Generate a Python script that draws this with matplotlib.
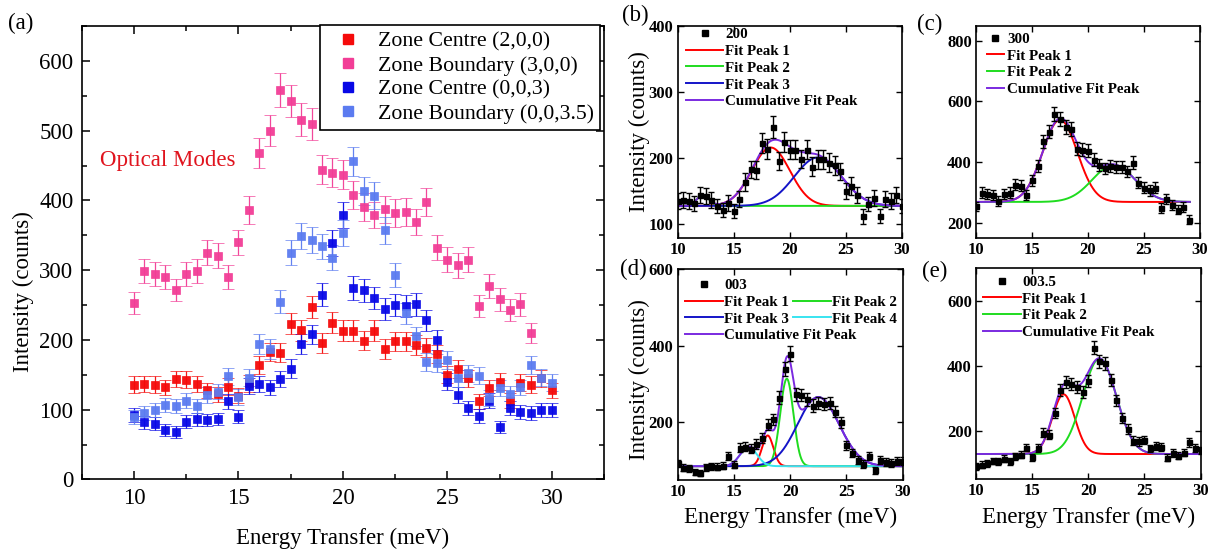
import numpy as np
import matplotlib.pyplot as plt
from matplotlib.lines import Line2D
from matplotlib.ticker import MultipleLocator

plt.rcParams["font.family"] = ["Liberation Serif", "DejaVu Serif"]

# energy transfer grid of the scans (meV)
energy = [10.0, 10.5, 11.0, 11.5, 12.0, 12.5, 13.0, 13.5, 14.0, 14.5,
          15.0, 15.5, 16.0, 16.5, 17.0, 17.5, 18.0, 18.5, 19.0, 19.5,
          20.0, 20.5, 21.0, 21.5, 22.0, 22.5, 23.0, 23.5, 24.0, 24.5,
          25.0, 25.5, 26.0, 26.5, 27.0, 27.5, 28.0, 28.5, 29.0, 29.5, 30.0]

# (2,0,0) zone centre
q200 = [136, 137, 136, 132, 144, 143, 137, 128, 122, 133,
        120, 138, 164, 183, 182, 223, 214, 247, 196, 225,
        213, 213, 199, 213, 187, 198, 198, 193, 189, 180,
        150, 158, 145, 112, 131, 140, 113, 139, 136, 145, 128]
q200_err = [12, 12, 12, 11, 12, 12, 12, 11, 11, 12,
            11, 12, 13, 13, 13, 15, 15, 16, 14, 15,
            15, 15, 14, 15, 14, 14, 14, 14, 14, 13,
            12, 13, 12, 11, 11, 12, 11, 12, 12, 12, 11]

# (3,0,0) zone boundary, measured up to 29 meV
q300 = [253, 299, 295, 290, 272, 295, 299, 325, 321, 290,
        340, 386, 468, 500, 558, 543, 516, 510, 444, 440,
        437, 408, 390, 379, 387, 382, 383, 369, 398, 332,
        315, 307, 315, 249, 277, 258, 243, 251, 210]
q300_err = [16, 17, 17, 17, 16, 17, 17, 18, 18, 17,
            18, 20, 22, 22, 24, 23, 23, 23, 21, 21,
            21, 20, 20, 19, 20, 20, 20, 19, 20, 18,
            18, 18, 18, 16, 17, 16, 16, 16, 15]

# (0,0,3) zone centre
q003 = [93, 82, 80, 71, 68, 83, 86, 85, 87, 112,
        90, 134, 137, 132, 144, 159, 194, 208, 265, 339,
        379, 274, 271, 260, 244, 250, 249, 251, 228, 200,
        140, 121, 102, 91, 113, 75, 102, 97, 95, 99, 99]
q003_err = [10, 9, 9, 8, 8, 9, 9, 9, 9, 11,
            9, 12, 12, 11, 12, 13, 14, 14, 16, 18,
            19, 17, 16, 16, 16, 16, 16, 16, 15, 14,
            12, 11, 10, 10, 11, 9, 10, 10, 10, 10, 10]

# (0,0,3.5) zone boundary
q0035 = [90, 95, 99, 107, 105, 113, 105, 121, 126, 148,
         118, 146, 194, 187, 255, 325, 349, 343, 334, 318,
         353, 456, 414, 407, 357, 293, 238, 205, 169, 167,
         171, 145, 152, 149, 117, 131, 123, 132, 164, 146, 139]
q0035_err = [10, 10, 10, 10, 10, 11, 10, 11, 11, 12,
             11, 12, 14, 14, 16, 18, 19, 19, 18, 18,
             19, 21, 20, 20, 19, 17, 15, 14, 13, 13,
             13, 12, 12, 12, 11, 11, 11, 11, 13, 12, 12]

# gaussian fits: baseline, then centre / height / width of each peak
fit200_base = 128
fit200_centre = [18.3, 12.25, 22.5]
fit200_height = [88, 16, 73]
fit200_width = [1.7, 0.55, 2.1]

fit300_base = 268
fit300_centre = [17.5, 22.3]
fit300_height = [271, 122]
fit300_width = [1.55, 1.9]

fit003_base = 86
fit003_centre = [18.0, 19.7, 22.5, 16.3]
fit003_height = [80, 228, 180, 50]
fit003_width = [0.5, 0.58, 1.85, 0.75]

fit0035_base = 128
fit0035_centre = [17.8, 21.0]
fit0035_height = [184, 294]
fit0035_width = [1.0, 1.5]

RED = "#ff0000"
GREEN = "#1fdc1f"
BLUE = "#1414c8"
CYAN = "#38e4f0"
PURPLE = "#7a2ae0"


def gauss(x, c, h, w):
    return h * np.exp(-(x - c) ** 2 / (2 * w ** 2))


def style_small(ax, ylim, yticks):
    ax.set_xlim(10, 30)
    ax.set_ylim(*ylim)
    ax.set_xticks([10, 15, 20, 25, 30])
    ax.set_yticks(yticks)
    ax.tick_params(direction="in", top=True, right=True, length=4, width=1,
                   labelsize=12, pad=3)
    for lab in ax.get_xticklabels() + ax.get_yticklabels():
        lab.set_fontweight("bold")
    for sp in ax.spines.values():
        sp.set_linewidth(1.2)


def fit_panel(ax, x, y, yerr, base, centre, height, width, colours, xmax=30):
    xs = np.linspace(10, xmax, 500)
    total = np.full_like(xs, base, dtype=float)
    lines = []
    for c, h, w, col in zip(centre, height, width, colours):
        part = gauss(xs, c, h, w)
        total += part
        ln, = ax.plot(xs, base + part, color=col, lw=1.4)
        lines.append(ln)
    cum, = ax.plot(xs, total, color=PURPLE, lw=1.4)
    ax.errorbar(x, y, yerr=yerr, fmt="s", color="black", ms=3.6,
                capsize=2, elinewidth=1, capthick=1, zorder=5)
    return lines, cum


def small_legend(ax, handles, labels, anchor, hlen=2.5, pad=0.1):
    return ax.legend(handles, labels, loc="upper left", bbox_to_anchor=anchor,
                     frameon=False, borderpad=0, borderaxespad=0,
                     handlelength=hlen, handletextpad=pad, labelspacing=0.22,
                     prop={"weight": "bold", "size": 10.8})


fig = plt.figure(figsize=(12.11, 5.5), dpi=100)

# ---- (a) all four scans together
ax = fig.add_axes([0.0675, 0.1282, 0.4313, 0.8245])
series = [
    (energy, q200, q200_err, "#f50a0a", "Zone Centre (2,0,0)"),
    (energy[:len(q300)], q300, q300_err, "#f23d96", "Zone Boundary (3,0,0)"),
    (energy, q003, q003_err, "#0808e6", "Zone Centre (0,0,3)"),
    (energy, q0035, q0035_err, "#5b7bf0", "Zone Boundary (0,0,3.5)"),
]
handles = []
for x, y, e, col, lab in series:
    ax.errorbar(x, y, yerr=e, fmt="s", color=col, ms=6, mew=0.5,
                ecolor=col, elinewidth=0.9, capsize=4, capthick=0.9, alpha=0.95)
    handles.append(Line2D([], [], marker="s", ls="none", color=col, ms=7))

ax.set_xlim(7.5, 32.5)
ax.set_ylim(0, 650)
ax.set_xticks([10, 15, 20, 25, 30])
ax.set_yticks([0, 100, 200, 300, 400, 500, 600])
ax.xaxis.set_minor_locator(MultipleLocator(2.5))
ax.yaxis.set_minor_locator(MultipleLocator(50))
ax.tick_params(which="both", direction="in", top=True, right=True,
               labelsize=16.5, width=1.1)
ax.tick_params(which="major", length=6, pad=6)
ax.tick_params(which="minor", length=3.5)
for sp in ax.spines.values():
    sp.set_linewidth(1.2)
ax.text(8.37, 457, "Optical Modes", color="#e0141e", fontsize=16.5,
        ha="left", va="center")
leg = ax.legend(handles, [s[4] for s in series], loc="upper right",
                bbox_to_anchor=(1 - 4 / 522, 1.002), borderaxespad=0,
                fontsize=15.7, handlelength=2, handletextpad=0.35,
                borderpad=0.3, labelspacing=0.17, fancybox=False,
                framealpha=1, edgecolor="black")
leg.get_frame().set_linewidth(1.2)

fig.text(0.0195, 1 - 292 / 550, "Intensity (counts)", rotation=90,
         ha="center", va="center", fontsize=16.5)
fig.text(0.2832, 1 - 538 / 550, "Energy Transfer (meV)", ha="center",
         va="center", fontsize=16.5)

data_handle = Line2D([], [], marker="s", ls="none", color="black", ms=4)

# ---- (b) 200
ax = fig.add_axes([0.5596, 0.5678, 0.1852, 0.3858])
lines, cum = fit_panel(ax, energy, q200, q200_err, fit200_base, fit200_centre,
                       fit200_height, fit200_width, [RED, GREEN, BLUE])
style_small(ax, (80, 400), [100, 200, 300, 400])
small_legend(ax, [data_handle] + lines + [cum],
             ["200", "Fit Peak 1", "Fit Peak 2", "Fit Peak 3",
              "Cumulative Fit Peak"], (0.037, 0.99))

# ---- (c) 300
ax = fig.add_axes([0.8059, 0.5678, 0.185, 0.3858])
lines, cum = fit_panel(ax, energy[:len(q300)], q300, q300_err, fit300_base,
                       fit300_centre, fit300_height, fit300_width,
                       [RED, GREEN], xmax=29.1)
style_small(ax, (150, 850), [200, 400, 600, 800])
small_legend(ax, [data_handle] + lines + [cum],
             ["300", "Fit Peak 1", "Fit Peak 2", "Cumulative Fit Peak"],
             (0.048, 0.968), hlen=1.15, pad=0.22)

# ---- (d) 003
ax = fig.add_axes([0.5596, 0.1273, 0.1858, 0.3836])
lines, cum = fit_panel(ax, energy, q003, q003_err, fit003_base, fit003_centre,
                       fit003_height, fit003_width, [RED, GREEN, BLUE, CYAN])
style_small(ax, (50, 600), [200, 400, 600])
blank = Line2D([], [], color="none")
leg1 = small_legend(ax, [data_handle, lines[0], lines[2], cum],
                    ["003", "Fit Peak 1", "Fit Peak 3", "Cumulative Fit Peak"],
                    (0.033, 0.955))
ax.add_artist(leg1)
small_legend(ax, [blank, lines[1], lines[3]], [" ", "Fit Peak 2", "Fit Peak 4"],
             (0.514, 0.955))
ax.set_xlabel("Energy Transfer (meV)", fontsize=16.5, labelpad=5)
fig.text(0.528, 1 - 380 / 550, "Intensity (counts)", rotation=90,
         ha="center", va="center", fontsize=16.5)

# ---- (e) 003.5
ax = fig.add_axes([0.8059, 0.1285, 0.1855, 0.3836])
lines, cum = fit_panel(ax, energy, q0035, q0035_err, fit0035_base,
                       fit0035_centre, fit0035_height, fit0035_width,
                       [RED, GREEN])
style_small(ax, (50, 700), [200, 400, 600])
small_legend(ax, [data_handle] + lines + [cum],
             ["003.5", "Fit Peak 1", "Fit Peak 2", "Cumulative Fit Peak"],
             (0.032, 0.967))
ax.set_xlabel("Energy Transfer (meV)", fontsize=16.5, labelpad=5)

fig.text(0.5284, 1 - 132 / 550, "Intensity (counts)", rotation=90,
         ha="center", va="center", fontsize=16.5)

# panel letters
for lx, ly, letter in [(0.0066, 0.957, "(a)"), (0.5136, 0.971, "(b)"),
                       (0.757, 0.955, "(c)"), (0.512, 0.51, "(d)"),
                       (0.7614, 0.506, "(e)")]:
    fig.text(lx, ly, letter, ha="left", va="center", fontsize=16.5)

fig.savefig("out.png", dpi=100)
